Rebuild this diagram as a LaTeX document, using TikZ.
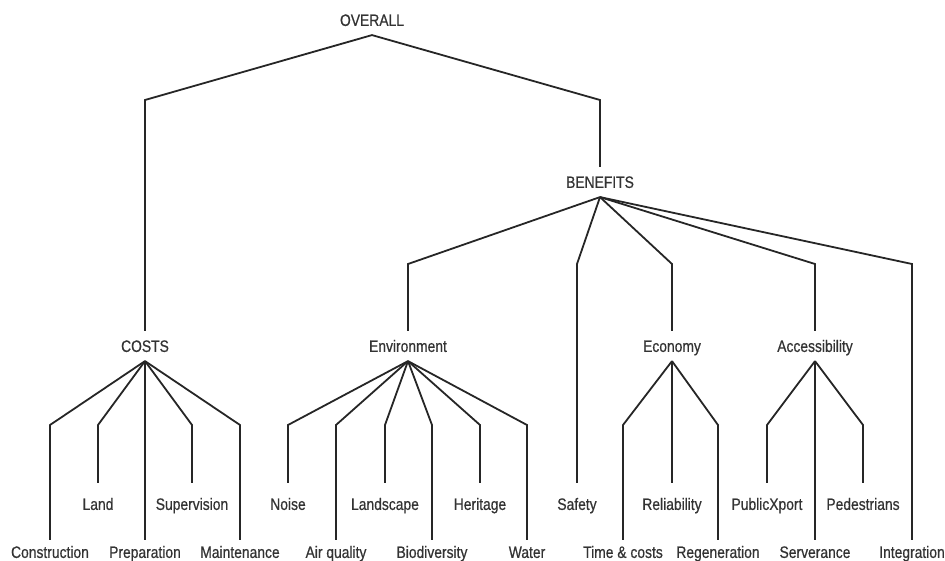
\documentclass[tikz,border=0pt]{standalone}
\usepackage{fontspec}
\setmainfont[FakeStretch=0.84,FakeBold=0.6]{Liberation Sans}
\usetikzlibrary{positioning}

\begin{document}
\begin{tikzpicture}[x=1pt,y=-1pt]
	\tikzstyle{lbl} = [inner xsep=1pt, text height=11.8pt, text depth=0pt, font=\fontsize{16.5}{18}\selectfont, text=black!80]
	\tikzstyle{head} = [lbl, inner ysep=9pt]
	\tikzstyle{leafup} = [lbl, inner ysep=15pt]
	\tikzstyle{leaflow} = [lbl, inner ysep=6pt]
	\tikzstyle{link} = [draw, line width=1.8pt, black!85]
	
	\useasboundingbox (0,0) rectangle (945,561);
	
	% top levels
	\node [head] (overall) at (372,20) {OVERALL};
	\node [head] (costs) at (145,346) {COSTS};
	\node [head] (benefits) at (600,182) {BENEFITS};
	\node [coordinate] (kc) at (145,100) {};
	\node [coordinate] (kb) at (600,100) {};
	
	% benefit groups
	\node [head] (env) at (408,346) {Environment};
	\node [head] (eco) at (672,346) {Economy};
	\node [head] (acc) at (815,346) {Accessibility};
	\node [coordinate] (kenv) at (408,264) {};
	\node [coordinate] (ksaf) at (577,264) {};
	\node [coordinate] (keco) at (672,264) {};
	\node [coordinate] (kacc) at (815,264) {};
	\node [coordinate] (kint) at (912,264) {};
	
	% costs leaves
	\node [leaflow] (constr) at (50,552) {Construction};
	\node [leafup] (land) at (98,504) {Land};
	\node [leaflow] (prep) at (145,552) {Preparation};
	\node [leafup] (superv) at (192,504) {Supervision};
	\node [leaflow] (maint) at (240,552) {Maintenance};
	\node [coordinate] (kconstr) at (50,425) {};
	\node [coordinate] (kland) at (98,425) {};
	\node [coordinate] (ksuperv) at (192,425) {};
	\node [coordinate] (kmaint) at (240,425) {};
	
	% environment leaves
	\node [leafup] (noise) at (288,504) {Noise};
	\node [leaflow] (air) at (336,552) {Air quality};
	\node [leafup] (landsc) at (385,504) {Landscape};
	\node [leaflow] (bio) at (432,552) {Biodiversity};
	\node [leafup] (herit) at (480,504) {Heritage};
	\node [leaflow] (water) at (527,552) {Water};
	\node [coordinate] (knoise) at (288,425) {};
	\node [coordinate] (kair) at (336,425) {};
	\node [coordinate] (klandsc) at (385,425) {};
	\node [coordinate] (kbio) at (432,425) {};
	\node [coordinate] (kherit) at (480,425) {};
	\node [coordinate] (kwater) at (527,425) {};
	
	% single leaves
	\node [leafup] (safety) at (577,504) {Safety};
	\node [leaflow] (integr) at (912,552) {Integration};
	
	% economy leaves
	\node [leaflow] (time) at (623,552) {Time \& costs};
	\node [leafup] (reliab) at (672,504) {Reliability};
	\node [leaflow] (regen) at (718,552) {Regeneration};
	\node [coordinate] (ktime) at (623,425) {};
	\node [coordinate] (kregen) at (718,425) {};
	
	% accessibility leaves
	\node [leafup] (pubx) at (767,504) {PublicXport};
	\node [leaflow] (serv) at (815,552) {Serverance};
	\node [leafup] (pedes) at (863,504) {Pedestrians};
	\node [coordinate] (kpubx) at (767,425) {};
	\node [coordinate] (kpedes) at (863,425) {};
	
	\draw [link] (costs.north) -- (kc) -- (overall.south) -- (kb) -- (benefits.north);
	
	\draw [link] (benefits.south) -- (kenv) -- (env.north);
	\draw [link] (benefits.south) -- (ksaf) -- (safety.north);
	\draw [link] (benefits.south) -- (keco) -- (eco.north);
	\draw [link] (benefits.south) -- (kacc) -- (acc.north);
	\draw [link] (benefits.south) -- (kint) -- (integr.north);
	
	\draw [link] (costs.south) -- (kconstr) -- (constr.north);
	\draw [link] (costs.south) -- (kland) -- (land.north);
	\draw [link] (costs.south) -- (prep.north);
	\draw [link] (costs.south) -- (ksuperv) -- (superv.north);
	\draw [link] (costs.south) -- (kmaint) -- (maint.north);
	
	\draw [link] (env.south) -- (knoise) -- (noise.north);
	\draw [link] (env.south) -- (kair) -- (air.north);
	\draw [link] (env.south) -- (klandsc) -- (landsc.north);
	\draw [link] (env.south) -- (kbio) -- (bio.north);
	\draw [link] (env.south) -- (kherit) -- (herit.north);
	\draw [link] (env.south) -- (kwater) -- (water.north);
	
	\draw [link] (eco.south) -- (ktime) -- (time.north);
	\draw [link] (eco.south) -- (reliab.north);
	\draw [link] (eco.south) -- (kregen) -- (regen.north);
	
	\draw [link] (acc.south) -- (kpubx) -- (pubx.north);
	\draw [link] (acc.south) -- (serv.north);
	\draw [link] (acc.south) -- (kpedes) -- (pedes.north);
	
\end{tikzpicture}
\end{document}
